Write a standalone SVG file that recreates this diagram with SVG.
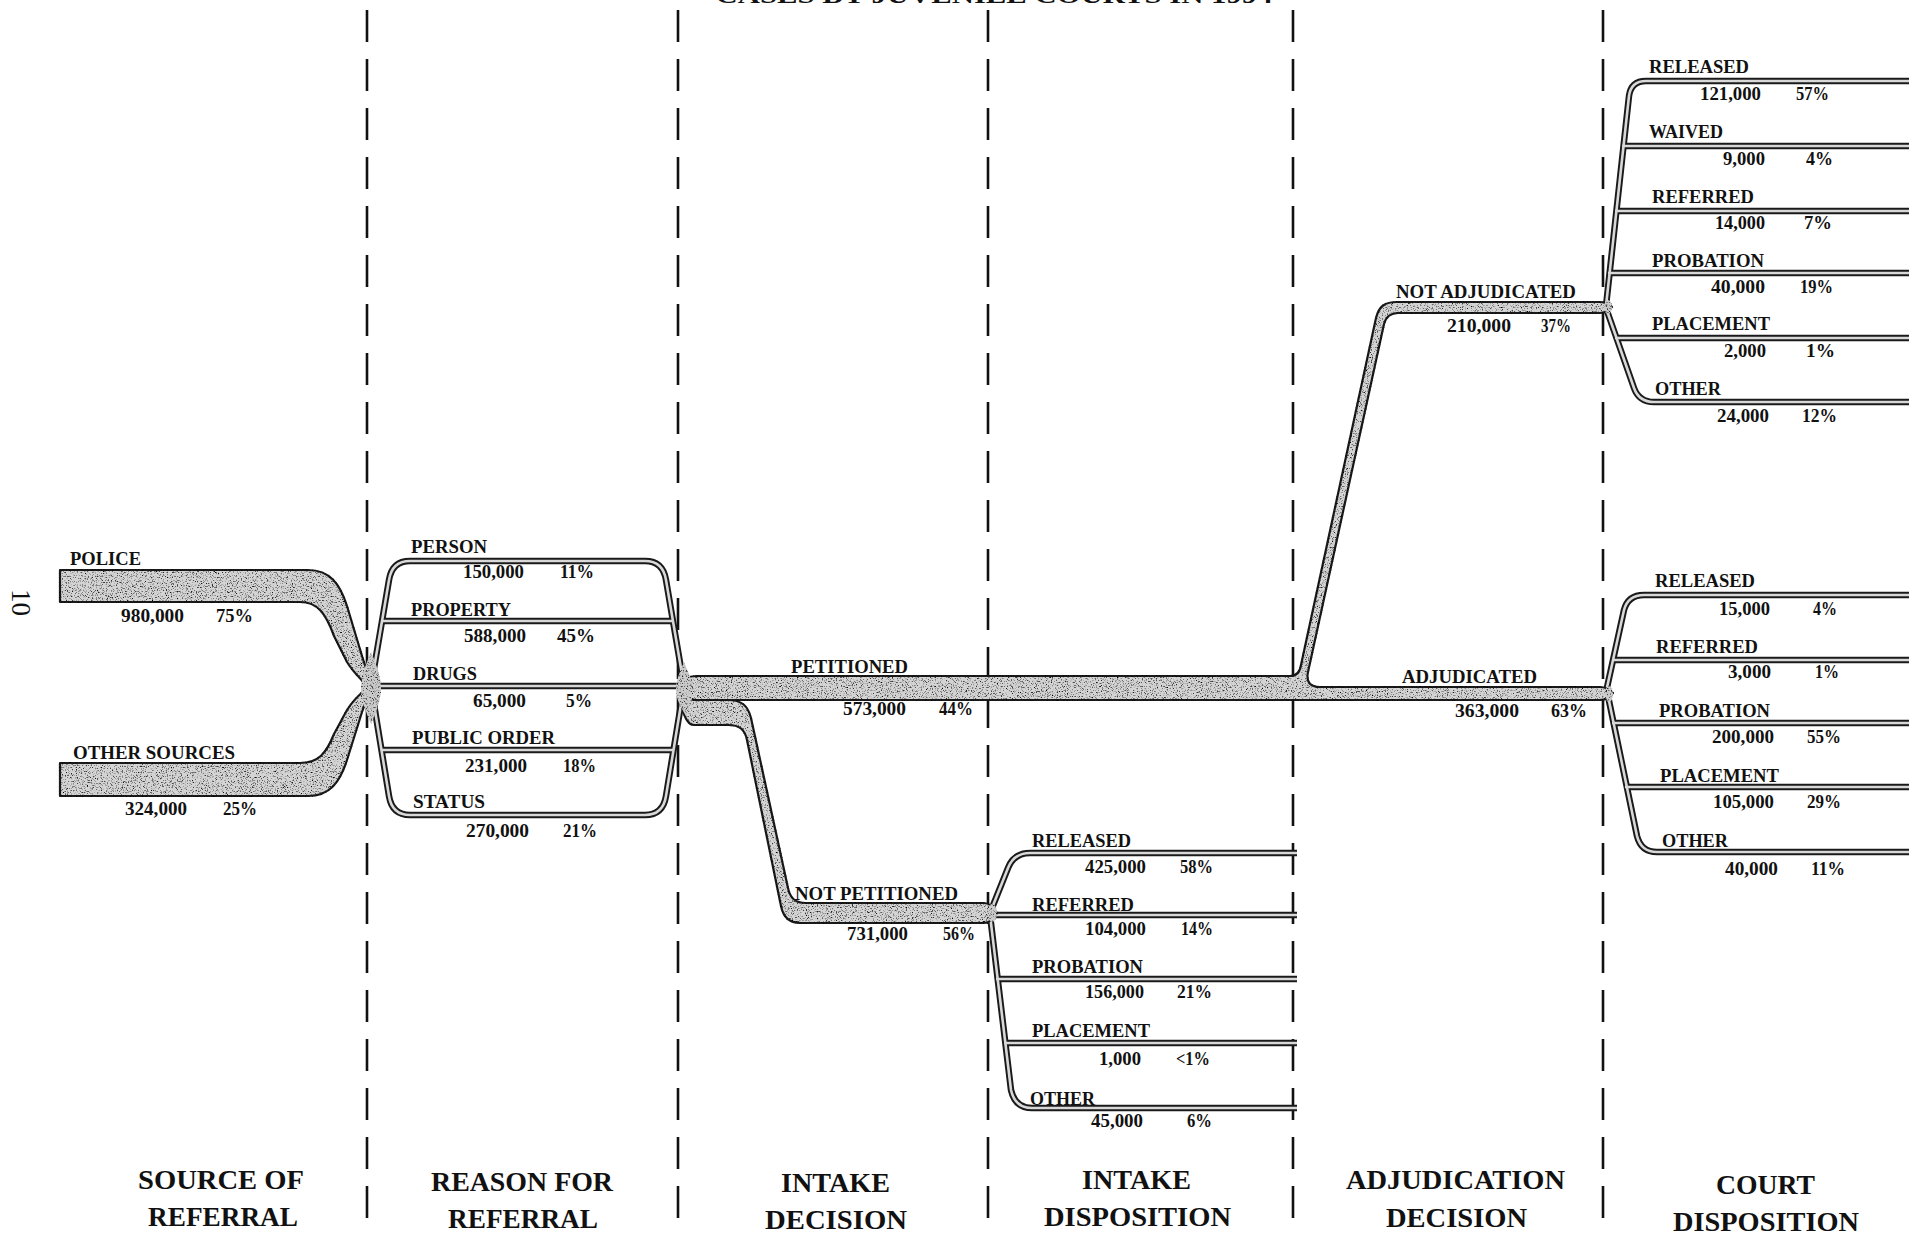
<svg xmlns="http://www.w3.org/2000/svg" width="1920" height="1235" viewBox="0 0 1920 1235">
<style>
  .dash{stroke:#111;stroke-width:2.6;stroke-dasharray:32 17;fill:none}
  .ro{fill:none;stroke:#1a1a1a;stroke-width:6.5;stroke-linejoin:round;stroke-linecap:butt}
  .ri{fill:none;stroke:#d8d8d8;stroke-width:2.6;stroke-linejoin:round;stroke-linecap:butt}
  .band{fill:#d4d4d4;stroke:#1a1a1a;stroke-width:2.2;stroke-linejoin:round}
  .blob{fill:#cbcbcb;stroke:none}
  text{font-family:"Liberation Serif","Times New Roman",serif;font-weight:bold;fill:#111}
  .t{font-size:19px}
  .h{font-size:28px}
  .ttl{font-size:24px}
  .pg{font-size:27px;font-weight:normal}
</style>
<defs>
  <filter id="grain" x="-2%" y="-2%" width="104%" height="104%" color-interpolation-filters="sRGB">
    <feTurbulence type="fractalNoise" baseFrequency="0.8" numOctaves="3" seed="7" result="noise"/>
    <feColorMatrix in="noise" type="matrix" values="0 0 0 0 0  0 0 0 0 0  0 0 0 0 0  -3.2 0 0 0 1.5" result="speck"/>
    <feComposite in="speck" in2="SourceAlpha" operator="in" result="speckIn"/>
    <feMerge><feMergeNode in="SourceGraphic"/><feMergeNode in="speckIn"/></feMerge>
  </filter>
  <path id="p-person" d="M371,686 L389,580 Q392,561 410,561 L645,561 Q663,561 666,580 L684,686"/>
  <path id="p-property" d="M381,621 L674,621"/>
  <path id="p-drugs" d="M371,686 L684,686"/>
  <path id="p-public" d="M381,750 L674,750"/>
  <path id="p-status" d="M371,686 L389,796 Q392,815 410,815 L645,815 Q663,815 666,796 L684,686"/>
  <path id="p-d-rel" d="M990,913 L1008,868 Q1014,853 1030,853 L1297,853"/>
  <path id="p-d-ref" d="M990,915 L1297,915"/>
  <path id="p-d-prob" d="M996,979 L1297,979"/>
  <path id="p-d-plac" d="M1004,1043 L1297,1043"/>
  <path id="p-d-oth" d="M990,915 L1011,1090 Q1015,1108 1032,1108 L1297,1108"/>
  <path id="p-n-rel" d="M1606,306 L1629,96 Q1631,81 1646,81 L1909,81"/>
  <path id="p-n-wai" d="M1622,146 L1909,146"/>
  <path id="p-n-ref" d="M1615,211 L1909,211"/>
  <path id="p-n-prob" d="M1608,273 L1909,273"/>
  <path id="p-n-plac" d="M1615,338 L1909,338"/>
  <path id="p-n-oth" d="M1606,308 L1634,388 Q1639,402 1654,402 L1909,402"/>
  <path id="p-a-rel" d="M1606,692 L1624,610 Q1628,595 1644,595 L1909,595"/>
  <path id="p-a-ref" d="M1612,660 L1909,660"/>
  <path id="p-a-prob" d="M1612,723 L1909,723"/>
  <path id="p-a-plac" d="M1625,787 L1909,787"/>
  <path id="p-a-oth" d="M1608,696 L1637,836 Q1641,852 1657,852 L1909,852"/>
</defs>
<rect x="0" y="0" width="1920" height="1235" fill="#ffffff"/>

<g id="title">
  <text class="ttl" x="994" y="3" text-anchor="middle" textLength="557" lengthAdjust="spacingAndGlyphs">CASES BY JUVENILE COURTS IN 1994</text>
</g>
<g id="page-number">
  <text class="pg" transform="translate(12,589) rotate(90)">10</text>
</g>

<g id="dividers">
  <line class="dash" x1="367" y1="10" x2="367" y2="1235"/>
  <line class="dash" x1="678" y1="10" x2="678" y2="1235"/>
  <line class="dash" x1="988" y1="10" x2="988" y2="1235"/>
  <line class="dash" x1="1293" y1="10" x2="1293" y2="1235"/>
  <line class="dash" x1="1603" y1="10" x2="1603" y2="1235"/>
</g>

<g id="connectors">
  <g id="branch-outlines">
    <use href="#p-person" class="ro"/><use href="#p-property" class="ro"/><use href="#p-drugs" class="ro"/><use href="#p-public" class="ro"/><use href="#p-status" class="ro"/>
    <use href="#p-d-rel" class="ro"/><use href="#p-d-ref" class="ro"/><use href="#p-d-prob" class="ro"/><use href="#p-d-plac" class="ro"/><use href="#p-d-oth" class="ro"/>
    <use href="#p-n-rel" class="ro"/><use href="#p-n-wai" class="ro"/><use href="#p-n-ref" class="ro"/><use href="#p-n-prob" class="ro"/><use href="#p-n-plac" class="ro"/><use href="#p-n-oth" class="ro"/>
    <use href="#p-a-rel" class="ro"/><use href="#p-a-ref" class="ro"/><use href="#p-a-prob" class="ro"/><use href="#p-a-plac" class="ro"/><use href="#p-a-oth" class="ro"/>
  </g>
  <g id="branch-fills">
    <use href="#p-person" class="ri"/><use href="#p-property" class="ri"/><use href="#p-drugs" class="ri"/><use href="#p-public" class="ri"/><use href="#p-status" class="ri"/>
    <use href="#p-d-rel" class="ri"/><use href="#p-d-ref" class="ri"/><use href="#p-d-prob" class="ri"/><use href="#p-d-plac" class="ri"/><use href="#p-d-oth" class="ri"/>
    <use href="#p-n-rel" class="ri"/><use href="#p-n-wai" class="ri"/><use href="#p-n-ref" class="ri"/><use href="#p-n-prob" class="ri"/><use href="#p-n-plac" class="ri"/><use href="#p-n-oth" class="ri"/>
    <use href="#p-a-rel" class="ri"/><use href="#p-a-ref" class="ri"/><use href="#p-a-prob" class="ri"/><use href="#p-a-plac" class="ri"/><use href="#p-a-oth" class="ri"/>
  </g>
  <g id="bands" filter="url(#grain)">
    <path class="band" d="M60,570 L308,570 C330,570 340,584 347,606 L362,656 C366,670 370,678 375,686 L367,686 C360,678 353,672 347,662 L334,636 C326,614 318,602 300,602 L60,602 Z"/>
    <path class="band" d="M60,796 L308,796 C330,796 340,782 347,760 L362,712 C366,700 370,694 375,688 L367,688 C360,694 353,700 347,710 L334,734 C326,754 318,763 300,763 L60,763 Z"/>
    <path class="blob" d="M371,652 C378,668 381,680 381,688 C381,698 378,708 371,724 C364,708 361,698 361,688 C361,680 364,668 371,652 Z"/>
    <path class="band" d="M684,698 L728,700 C742,700 748,706 751,718 L788,888 C790,898 795,903 806,903 L984,903 C990,903 994,908 997,913 C994,918 990,923 984,923 L800,923 C788,923 783,916 781,906 L747,740 C745,730 740,725 728,725 L694,725 C688,725 684,716 682,706 Z"/>
    <path class="band" d="M680,686 C684,679 688,676 696,676 L1290,676 C1297,676 1300,672 1301,665 L1376,318 C1379,306 1385,302 1397,302 L1600,302 C1606,302 1609,305 1612,307 C1609,310 1606,313 1600,313 L1398,313 C1390,313 1386,317 1384,324 L1308,672 C1306,682 1310,687 1320,687 L1600,687 C1606,687 1610,690 1613,693 C1610,697 1606,700 1600,700 L696,700 C688,700 684,695 680,686 Z"/>
    <path class="blob" d="M684,662 C690,676 693,682 693,690 C693,698 690,706 686,716 C680,706 676,698 676,690 C676,682 678,676 684,662 Z"/>
    <ellipse class="blob" cx="992" cy="913" rx="5" ry="9"/>
    <ellipse class="blob" cx="1608" cy="307" rx="4" ry="7"/>
    <ellipse class="blob" cx="1609" cy="694" rx="4" ry="8"/>
  </g>
</g>

<g id="n-police"><text class="t" x="70" y="565" textLength="71" lengthAdjust="spacingAndGlyphs">POLICE</text><text class="t" x="121" y="622" textLength="63" lengthAdjust="spacingAndGlyphs">980,000</text><text class="t" x="216" y="622" textLength="37" lengthAdjust="spacingAndGlyphs">75%</text></g>
<g id="n-other-sources"><text class="t" x="73" y="759" textLength="162" lengthAdjust="spacingAndGlyphs">OTHER SOURCES</text><text class="t" x="125" y="815" textLength="62" lengthAdjust="spacingAndGlyphs">324,000</text><text class="t" x="223" y="815" textLength="34" lengthAdjust="spacingAndGlyphs">25%</text></g>

<g id="n-person"><text class="t" x="411" y="553" textLength="76" lengthAdjust="spacingAndGlyphs">PERSON</text><text class="t" x="463" y="578" textLength="61" lengthAdjust="spacingAndGlyphs">150,000</text><text class="t" x="560" y="578" textLength="34" lengthAdjust="spacingAndGlyphs">11%</text></g>
<g id="n-property"><text class="t" x="411" y="616" textLength="100" lengthAdjust="spacingAndGlyphs">PROPERTY</text><text class="t" x="464" y="642" textLength="62" lengthAdjust="spacingAndGlyphs">588,000</text><text class="t" x="557" y="642" textLength="38" lengthAdjust="spacingAndGlyphs">45%</text></g>
<g id="n-drugs"><text class="t" x="413" y="680" textLength="64" lengthAdjust="spacingAndGlyphs">DRUGS</text><text class="t" x="473" y="707" textLength="53" lengthAdjust="spacingAndGlyphs">65,000</text><text class="t" x="566" y="707" textLength="26" lengthAdjust="spacingAndGlyphs">5%</text></g>
<g id="n-public-order"><text class="t" x="412" y="744" textLength="143" lengthAdjust="spacingAndGlyphs">PUBLIC ORDER</text><text class="t" x="465" y="772" textLength="62" lengthAdjust="spacingAndGlyphs">231,000</text><text class="t" x="563" y="772" textLength="33" lengthAdjust="spacingAndGlyphs">18%</text></g>
<g id="n-status"><text class="t" x="413" y="808" textLength="72" lengthAdjust="spacingAndGlyphs">STATUS</text><text class="t" x="466" y="837" textLength="63" lengthAdjust="spacingAndGlyphs">270,000</text><text class="t" x="563" y="837" textLength="34" lengthAdjust="spacingAndGlyphs">21%</text></g>

<g id="n-petitioned"><text class="t" x="791" y="673" textLength="117" lengthAdjust="spacingAndGlyphs">PETITIONED</text><text class="t" x="843" y="715" textLength="63" lengthAdjust="spacingAndGlyphs">573,000</text><text class="t" x="939" y="715" textLength="34" lengthAdjust="spacingAndGlyphs">44%</text></g>
<g id="n-not-petitioned"><text class="t" x="795" y="900" textLength="163" lengthAdjust="spacingAndGlyphs">NOT PETITIONED</text><text class="t" x="847" y="940" textLength="61" lengthAdjust="spacingAndGlyphs">731,000</text><text class="t" x="943" y="940" textLength="32" lengthAdjust="spacingAndGlyphs">56%</text></g>

<g id="n-intake-released"><text class="t" x="1032" y="847" textLength="99" lengthAdjust="spacingAndGlyphs">RELEASED</text><text class="t" x="1085" y="873" textLength="61" lengthAdjust="spacingAndGlyphs">425,000</text><text class="t" x="1180" y="873" textLength="33" lengthAdjust="spacingAndGlyphs">58%</text></g>
<g id="n-intake-referred"><text class="t" x="1032" y="911" textLength="102" lengthAdjust="spacingAndGlyphs">REFERRED</text><text class="t" x="1085" y="935" textLength="61" lengthAdjust="spacingAndGlyphs">104,000</text><text class="t" x="1181" y="935" textLength="32" lengthAdjust="spacingAndGlyphs">14%</text></g>
<g id="n-intake-probation"><text class="t" x="1032" y="973" textLength="111" lengthAdjust="spacingAndGlyphs">PROBATION</text><text class="t" x="1085" y="998" textLength="59" lengthAdjust="spacingAndGlyphs">156,000</text><text class="t" x="1177" y="998" textLength="35" lengthAdjust="spacingAndGlyphs">21%</text></g>
<g id="n-intake-placement"><text class="t" x="1032" y="1037" textLength="118" lengthAdjust="spacingAndGlyphs">PLACEMENT</text><text class="t" x="1099" y="1065" textLength="42" lengthAdjust="spacingAndGlyphs">1,000</text><text class="t" x="1176" y="1065" textLength="34" lengthAdjust="spacingAndGlyphs">&lt;1%</text></g>
<g id="n-intake-other"><text class="t" x="1030" y="1105" textLength="65" lengthAdjust="spacingAndGlyphs">OTHER</text><text class="t" x="1091" y="1127" textLength="52" lengthAdjust="spacingAndGlyphs">45,000</text><text class="t" x="1187" y="1127" textLength="25" lengthAdjust="spacingAndGlyphs">6%</text></g>

<g id="n-not-adjudicated"><text class="t" x="1396" y="298" textLength="180" lengthAdjust="spacingAndGlyphs">NOT ADJUDICATED</text><text class="t" x="1447" y="332" textLength="64" lengthAdjust="spacingAndGlyphs">210,000</text><text class="t" x="1541" y="332" textLength="30" lengthAdjust="spacingAndGlyphs">37%</text></g>
<g id="n-adjudicated"><text class="t" x="1402" y="683" textLength="135" lengthAdjust="spacingAndGlyphs">ADJUDICATED</text><text class="t" x="1455" y="717" textLength="64" lengthAdjust="spacingAndGlyphs">363,000</text><text class="t" x="1551" y="717" textLength="36" lengthAdjust="spacingAndGlyphs">63%</text></g>

<g id="n-na-released"><text class="t" x="1649" y="73" textLength="100" lengthAdjust="spacingAndGlyphs">RELEASED</text><text class="t" x="1700" y="100" textLength="61" lengthAdjust="spacingAndGlyphs">121,000</text><text class="t" x="1796" y="100" textLength="33" lengthAdjust="spacingAndGlyphs">57%</text></g>
<g id="n-na-waived"><text class="t" x="1649" y="138" textLength="74" lengthAdjust="spacingAndGlyphs">WAIVED</text><text class="t" x="1723" y="165" textLength="42" lengthAdjust="spacingAndGlyphs">9,000</text><text class="t" x="1806" y="165" textLength="27" lengthAdjust="spacingAndGlyphs">4%</text></g>
<g id="n-na-referred"><text class="t" x="1652" y="203" textLength="102" lengthAdjust="spacingAndGlyphs">REFERRED</text><text class="t" x="1715" y="229" textLength="50" lengthAdjust="spacingAndGlyphs">14,000</text><text class="t" x="1804" y="229" textLength="28" lengthAdjust="spacingAndGlyphs">7%</text></g>
<g id="n-na-probation"><text class="t" x="1652" y="267" textLength="112" lengthAdjust="spacingAndGlyphs">PROBATION</text><text class="t" x="1711" y="293" textLength="54" lengthAdjust="spacingAndGlyphs">40,000</text><text class="t" x="1800" y="293" textLength="33" lengthAdjust="spacingAndGlyphs">19%</text></g>
<g id="n-na-placement"><text class="t" x="1652" y="330" textLength="118" lengthAdjust="spacingAndGlyphs">PLACEMENT</text><text class="t" x="1724" y="357" textLength="42" lengthAdjust="spacingAndGlyphs">2,000</text><text class="t" x="1806" y="357" textLength="29" lengthAdjust="spacingAndGlyphs">1%</text></g>
<g id="n-na-other"><text class="t" x="1655" y="395" textLength="66" lengthAdjust="spacingAndGlyphs">OTHER</text><text class="t" x="1717" y="422" textLength="52" lengthAdjust="spacingAndGlyphs">24,000</text><text class="t" x="1802" y="422" textLength="35" lengthAdjust="spacingAndGlyphs">12%</text></g>

<g id="n-adj-released"><text class="t" x="1655" y="587" textLength="100" lengthAdjust="spacingAndGlyphs">RELEASED</text><text class="t" x="1719" y="615" textLength="51" lengthAdjust="spacingAndGlyphs">15,000</text><text class="t" x="1813" y="615" textLength="24" lengthAdjust="spacingAndGlyphs">4%</text></g>
<g id="n-adj-referred"><text class="t" x="1656" y="653" textLength="102" lengthAdjust="spacingAndGlyphs">REFERRED</text><text class="t" x="1728" y="678" textLength="43" lengthAdjust="spacingAndGlyphs">3,000</text><text class="t" x="1815" y="678" textLength="24" lengthAdjust="spacingAndGlyphs">1%</text></g>
<g id="n-adj-probation"><text class="t" x="1659" y="717" textLength="111" lengthAdjust="spacingAndGlyphs">PROBATION</text><text class="t" x="1712" y="743" textLength="62" lengthAdjust="spacingAndGlyphs">200,000</text><text class="t" x="1807" y="743" textLength="34" lengthAdjust="spacingAndGlyphs">55%</text></g>
<g id="n-adj-placement"><text class="t" x="1660" y="782" textLength="119" lengthAdjust="spacingAndGlyphs">PLACEMENT</text><text class="t" x="1713" y="808" textLength="61" lengthAdjust="spacingAndGlyphs">105,000</text><text class="t" x="1807" y="808" textLength="34" lengthAdjust="spacingAndGlyphs">29%</text></g>
<g id="n-adj-other"><text class="t" x="1662" y="847" textLength="66" lengthAdjust="spacingAndGlyphs">OTHER</text><text class="t" x="1725" y="875" textLength="53" lengthAdjust="spacingAndGlyphs">40,000</text><text class="t" x="1811" y="875" textLength="34" lengthAdjust="spacingAndGlyphs">11%</text></g>

<g id="column-headers">
  <text class="h" x="138" y="1189" textLength="166" lengthAdjust="spacingAndGlyphs">SOURCE OF</text>
  <text class="h" x="148" y="1226" textLength="150" lengthAdjust="spacingAndGlyphs">REFERRAL</text>
  <text class="h" x="431" y="1191" textLength="182" lengthAdjust="spacingAndGlyphs">REASON FOR</text>
  <text class="h" x="448" y="1228" textLength="150" lengthAdjust="spacingAndGlyphs">REFERRAL</text>
  <text class="h" x="781" y="1192" textLength="109" lengthAdjust="spacingAndGlyphs">INTAKE</text>
  <text class="h" x="765" y="1229" textLength="142" lengthAdjust="spacingAndGlyphs">DECISION</text>
  <text class="h" x="1082" y="1189" textLength="109" lengthAdjust="spacingAndGlyphs">INTAKE</text>
  <text class="h" x="1044" y="1226" textLength="187" lengthAdjust="spacingAndGlyphs">DISPOSITION</text>
  <text class="h" x="1346" y="1189" textLength="219" lengthAdjust="spacingAndGlyphs">ADJUDICATION</text>
  <text class="h" x="1386" y="1227" textLength="141" lengthAdjust="spacingAndGlyphs">DECISION</text>
  <text class="h" x="1716" y="1194" textLength="99" lengthAdjust="spacingAndGlyphs">COURT</text>
  <text class="h" x="1673" y="1231" textLength="186" lengthAdjust="spacingAndGlyphs">DISPOSITION</text>
</g>
</svg>
